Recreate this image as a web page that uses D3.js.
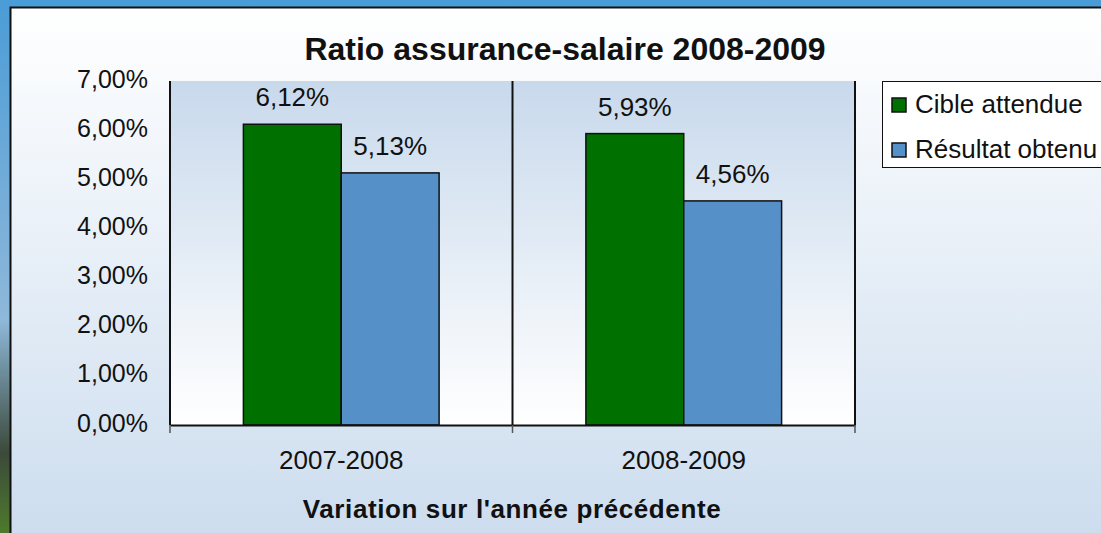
<!DOCTYPE html>
<html>
<head>
<meta charset="utf-8">
<script src="https://cdn.jsdelivr.net/npm/d3@7"></script>
<style>
  body { margin: 0; overflow: hidden; }
  svg { display: block; font-family: "Liberation Sans", Arial, sans-serif; }
</style>
</head>
<body>
<div id="chart"></div>
<script>
// data
var categories = ["2007-2008", "2008-2009"];
var seriesNames = ["Cible attendue", "Résultat obtenu"];
var cibleValues = [6.12, 5.93];
var resultatValues = [5.13, 4.56];
var yTicks = [0, 1, 2, 3, 4, 5, 6, 7];
var seriesColors = ["#007000", "#5591c8"];

var svgWidth = 1101;
var svgHeight = 533;

var svg = d3.select("#chart")
    .append("svg")
    .attr("width", svgWidth)
    .attr("height", svgHeight);

var defs = svg.append("defs");

var bgGrad = defs.append("linearGradient").attr("id", "bgGrad")
    .attr("x1", 0).attr("y1", 0).attr("x2", 0).attr("y2", 1);
bgGrad.append("stop").attr("offset", "0%").attr("stop-color", "#4a9cd6");
bgGrad.append("stop").attr("offset", "60%").attr("stop-color", "#8fb8da");
bgGrad.append("stop").attr("offset", "85%").attr("stop-color", "#3b4a3a");
bgGrad.append("stop").attr("offset", "100%").attr("stop-color", "#4d7a2c");

var chartGrad = defs.append("linearGradient").attr("id", "chartGrad")
    .attr("x1", 0).attr("y1", 0).attr("x2", 0).attr("y2", 1);
chartGrad.append("stop").attr("offset", "0%").attr("stop-color", "#ffffff");
chartGrad.append("stop").attr("offset", "100%").attr("stop-color", "#cbdcee");

var plotGrad = defs.append("linearGradient").attr("id", "plotGrad")
    .attr("x1", 0).attr("y1", 0).attr("x2", 0).attr("y2", 1);
plotGrad.append("stop").attr("offset", "0%").attr("stop-color", "#c8d9ec");
plotGrad.append("stop").attr("offset", "100%").attr("stop-color", "#ffffff");

// page background (photo edge)
svg.append("rect")
    .attr("width", svgWidth).attr("height", svgHeight)
    .attr("fill", "url(#bgGrad)");

// chart area
svg.append("rect")
    .attr("x", 10.5).attr("y", 7.5)
    .attr("width", svgWidth + 10).attr("height", svgHeight + 10)
    .attr("fill", "url(#chartGrad)")
    .attr("stroke", "#111").attr("stroke-width", 2);

var plot = { left: 170, right: 855, top: 81, bottom: 425 };

var x0 = d3.scaleBand()
    .domain(categories)
    .range([plot.left, plot.right])
    .paddingInner(0).paddingOuter(0);

// gap width 150%: each side gets 0.75 of a bar width
var x1 = d3.scaleBand()
    .domain(seriesNames)
    .range([x0.bandwidth() * 0.75 / 3.5, x0.bandwidth() * (1 - 0.75 / 3.5)])
    .paddingInner(0).paddingOuter(0);

var y = d3.scaleLinear()
    .domain([0, 7])
    .range([plot.bottom, plot.top]);

// plot area
svg.append("rect")
    .attr("x", plot.left).attr("y", plot.top)
    .attr("width", plot.right - plot.left).attr("height", plot.bottom - plot.top)
    .attr("fill", "url(#plotGrad)");

// category separators
svg.selectAll(".sep")
    .data([plot.left, x0(categories[1]), plot.right])
    .enter()
    .append("line")
    .attr("x1", d => d).attr("x2", d => d)
    .attr("y1", plot.top).attr("y2", plot.bottom)
    .attr("stroke", "#111").attr("stroke-width", 2);

// bars
var flat = [];
categories.forEach(function (c, i) {
    flat.push({ cat: c, s: seriesNames[0], v: cibleValues[i], color: seriesColors[0] });
    flat.push({ cat: c, s: seriesNames[1], v: resultatValues[i], color: seriesColors[1] });
});

svg.selectAll(".bar")
    .data(flat)
    .enter()
    .append("rect")
    .attr("x", d => x0(d.cat) + x1(d.s))
    .attr("y", d => y(d.v))
    .attr("width", x1.bandwidth())
    .attr("height", d => y(0) - y(d.v))
    .attr("fill", d => d.color)
    .attr("stroke", "#111")
    .attr("stroke-width", 1.5);

// value labels
svg.selectAll(".val")
    .data(flat)
    .enter()
    .append("text")
    .attr("x", d => x0(d.cat) + x1(d.s) + x1.bandwidth() / 2)
    .attr("y", d => y(d.v) - 18)
    .attr("text-anchor", "middle")
    .attr("font-size", "26px")
    .attr("fill", "#111")
    .text(d => d.v.toFixed(2).replace(".", ",") + "%");

// x axis
var bottomAxis = d3.axisBottom(x0).tickSize(0).tickPadding(26);
var xg = svg.append("g")
    .attr("transform", `translate(0, ${plot.bottom})`)
    .call(bottomAxis);
xg.select(".domain").attr("stroke", "#111").attr("stroke-width", 2);
xg.selectAll("text").attr("font-size", "26px").attr("fill", "#111")
    .attr("font-family", "Liberation Sans, Arial, sans-serif");

svg.selectAll(".xtick")
    .data([plot.left, x0(categories[1]), plot.right])
    .enter()
    .append("line")
    .attr("x1", d => d).attr("x2", d => d)
    .attr("y1", plot.bottom).attr("y2", plot.bottom + 8)
    .attr("stroke", "#555").attr("stroke-width", 1.5);

// y axis
var leftAxis = d3.axisLeft(y)
    .tickValues(yTicks)
    .tickSize(0)
    .tickPadding(22)
    .tickFormat(d => d.toFixed(2).replace(".", ",") + "%");
var yg = svg.append("g")
    .attr("transform", `translate(${plot.left}, -2)`)
    .call(leftAxis);
yg.select(".domain").remove();
yg.selectAll("text").attr("font-size", "25px").attr("fill", "#111")
    .attr("font-family", "Liberation Sans, Arial, sans-serif");

// title
svg.append("text")
    .attr("x", 565).attr("y", 60)
    .attr("text-anchor", "middle")
    .attr("font-size", "32px")
    .attr("font-weight", "bold")
    .attr("fill", "#111")
    .text("Ratio assurance-salaire 2008-2009");

// x axis title
svg.append("text")
    .attr("x", 512).attr("y", 518)
    .attr("text-anchor", "middle")
    .attr("font-size", "26px")
    .attr("font-weight", "bold")
    .attr("letter-spacing", "0.6px")
    .attr("fill", "#111")
    .text("Variation sur l'année précédente");

// legend
var legend = svg.append("g");
legend.append("rect")
    .attr("x", 882.5).attr("y", 81.5)
    .attr("width", 240).attr("height", 86)
    .attr("fill", "#fff")
    .attr("stroke", "#111").attr("stroke-width", 1);

var items = legend.selectAll(".item")
    .data(seriesNames)
    .enter()
    .append("g")
    .attr("transform", (d, i) => `translate(892, ${98 + i * 45})`);
items.append("rect")
    .attr("width", 14).attr("height", 14)
    .attr("fill", (d, i) => seriesColors[i])
    .attr("stroke", "#111").attr("stroke-width", 1.5);
items.append("text")
    .attr("x", 23).attr("y", 15)
    .attr("font-size", "26px")
    .attr("fill", "#111")
    .text(d => d);
</script>
</body>
</html>
